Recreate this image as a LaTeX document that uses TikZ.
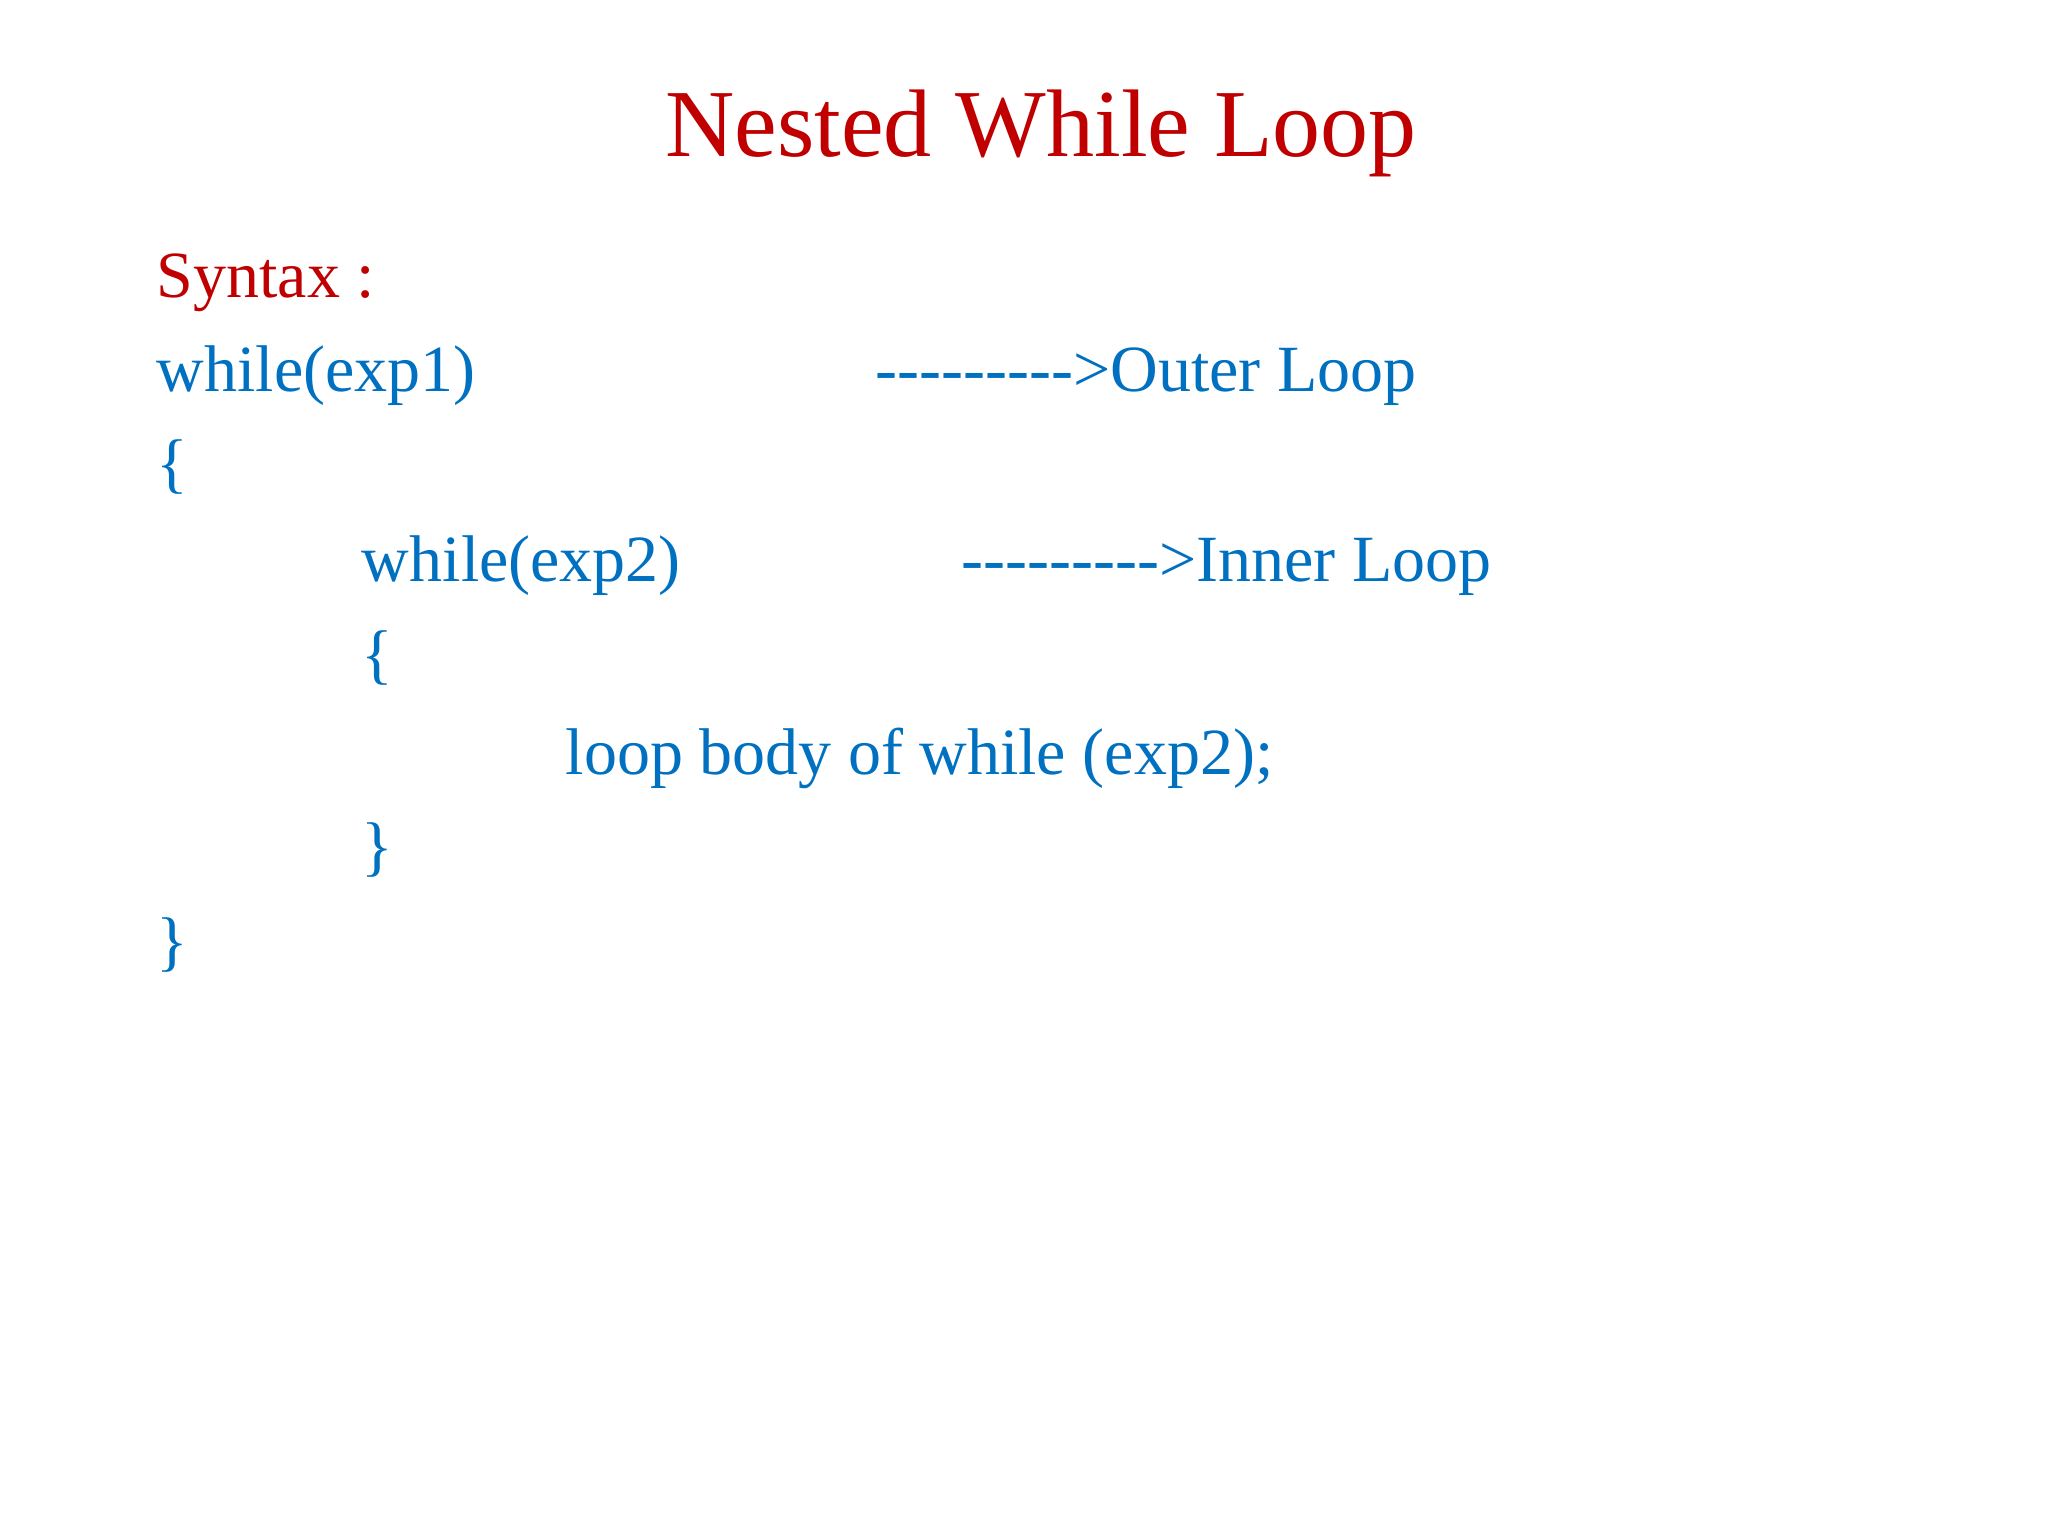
\documentclass[tikz,border=0pt]{standalone}
\usepackage{fontspec}
\setmainfont{Liberation Serif}
\definecolor{tred}{RGB}{192,0,0}
\definecolor{tblue}{RGB}{0,112,192}
\newcommand{\dashes}{{-}{-}{-}{-}{-}{-}{-}{-}{-}>}
\begin{document}
\begin{tikzpicture}[x=1.306pt,y=-1.306pt,
  code/.style={anchor=base west,inner sep=0pt,text=tblue,font=\fontsize{66}{70}\selectfont}]
\useasboundingbox[fill=white] (0,0) rectangle (1568,1176);
\node[anchor=base,inner sep=0pt,text=tred,font=\fontsize{96}{100}\selectfont] (title) at (797,120) {Nested While Loop};
\node[code,text=tred] (syn) at (120,228) {Syntax :};
\node[code] (w1) at (120,300) {while(exp1)};
\node[code] (o) at (670,300) {\dashes Outer Loop};
\node[code] (b1) at (120,372) {\{};
\node[code] (w2) at (277,445) {while(exp2)};
\node[code] (i) at (736,445) {\dashes Inner Loop};
\node[code] (b2) at (277,518) {\{};
\node[code] (body) at (433,593) {loop body of while (exp2);};
\node[code] (b3) at (277,665) {\}};
\node[code] (b4) at (120,738) {\}};
\end{tikzpicture}
\end{document}
